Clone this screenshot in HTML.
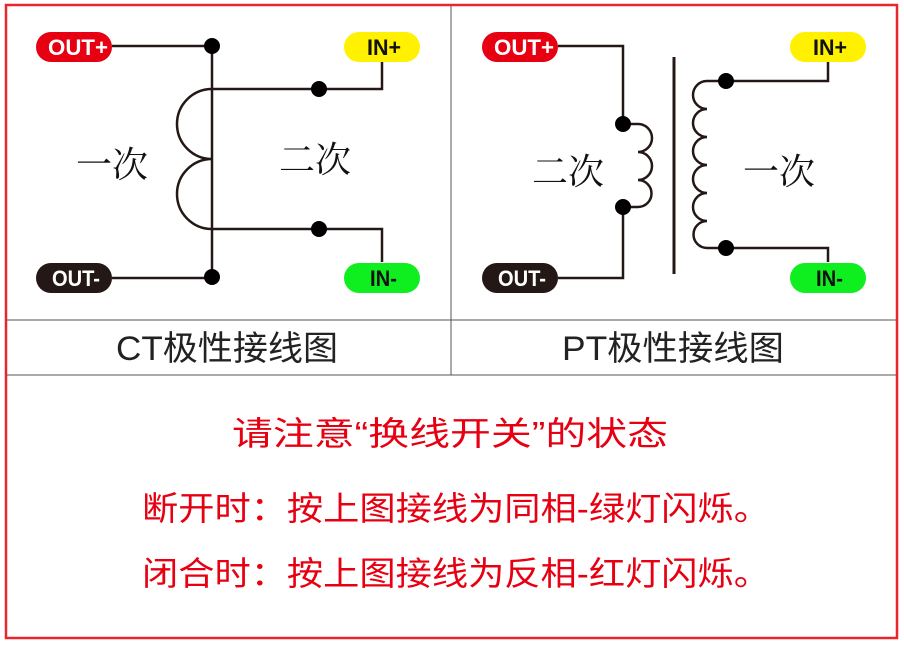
<!DOCTYPE html>
<html><head><meta charset="utf-8"><style>
html,body{margin:0;padding:0;background:#fff;}
svg{display:block;}
.p{font-family:"Liberation Sans",sans-serif;font-weight:bold;font-size:22px;}
.s{font-family:"Liberation Serif","Noto Serif CJK SC",serif;font-size:36px;fill:#111;}
.t{font-family:"Liberation Sans","Noto Sans CJK SC",sans-serif;font-size:34px;fill:#222;}
.r{font-family:"Liberation Sans","Noto Sans CJK SC",sans-serif;font-size:33px;fill:#e60012;}
</style></head><body>
<svg width="904" height="645" viewBox="0 0 904 645" xmlns="http://www.w3.org/2000/svg">
<rect x="6" y="5" width="891" height="633" fill="#fff" stroke="#e8262b" stroke-width="2.5"/>
<line x1="451" y1="6" x2="451" y2="375" stroke="#555" stroke-width="1"/>
<line x1="7" y1="320" x2="896" y2="320" stroke="#555" stroke-width="1"/>
<line x1="7" y1="375" x2="896" y2="375" stroke="#555" stroke-width="1"/>
<g fill="none" stroke="#231815" stroke-width="2.5">
<path d="M112 46 H212 V278 H112"/>
<path d="M212 89 H382 V62"/>
<path d="M212 229 H382 V262"/>
<path d="M212 89 A35 35 0 0 0 212 159 A35 35 0 0 0 212 229"/>
<path d="M558 46 H623 V124"/>
<path d="M623 207 V278 H558"/>
<path d="M623 124 H638 a14 14 0 0 1 0 28 a14 14 0 0 1 0 28 a13.5 13.5 0 0 1 0 27 H623"/>
<path d="M674 57 V274" stroke-width="3"/>
<path d="M726 81 H828 V62"/>
<path d="M726 248 H828 V262"/>
<path d="M726 81 H707 a14 14 0 0 0 0 28 a14 14 0 0 0 0 28 a14 14 0 0 0 0 28 a14 14 0 0 0 0 28 a14 14 0 0 0 0 28 a13.5 13.5 0 0 0 0 27 H726"/>
</g>
<g fill="#000">
<circle cx="212" cy="46" r="8"/><circle cx="212" cy="277" r="8"/>
<circle cx="319" cy="89" r="8"/><circle cx="319" cy="229" r="8"/>
<circle cx="623" cy="124" r="8"/><circle cx="623" cy="207" r="8"/>
<circle cx="726" cy="81" r="8"/><circle cx="726" cy="248" r="8"/>
</g>
<rect x="36" y="32" width="76" height="30" rx="15" fill="#e60012"/>
<text x="48" y="55" class="p" fill="#fff" textLength="60" lengthAdjust="spacingAndGlyphs">OUT+</text>
<rect x="36" y="263" width="76" height="30" rx="15" fill="#231815"/>
<text x="52" y="286" class="p" fill="#fff" textLength="48" lengthAdjust="spacingAndGlyphs">OUT-</text>
<rect x="344" y="32" width="76" height="30" rx="15" fill="#fff100"/>
<text x="367" y="55" class="p" fill="#111" textLength="34" lengthAdjust="spacingAndGlyphs">IN+</text>
<rect x="344" y="263" width="76" height="30" rx="15" fill="#0fef20"/>
<text x="370" y="286" class="p" fill="#111" textLength="27" lengthAdjust="spacingAndGlyphs">IN-</text>
<rect x="482" y="32" width="76" height="30" rx="15" fill="#e60012"/>
<text x="494" y="55" class="p" fill="#fff" textLength="60" lengthAdjust="spacingAndGlyphs">OUT+</text>
<rect x="482" y="263" width="76" height="30" rx="15" fill="#231815"/>
<text x="498" y="286" class="p" fill="#fff" textLength="48" lengthAdjust="spacingAndGlyphs">OUT-</text>
<rect x="790" y="32" width="76" height="30" rx="15" fill="#fff100"/>
<text x="813" y="55" class="p" fill="#111" textLength="34" lengthAdjust="spacingAndGlyphs">IN+</text>
<rect x="790" y="263" width="76" height="30" rx="15" fill="#0fef20"/>
<text x="816" y="286" class="p" fill="#111" textLength="27" lengthAdjust="spacingAndGlyphs">IN-</text>
<text x="112" y="177" text-anchor="middle" class="s">一次</text>
<text x="315" y="172" text-anchor="middle" class="s">二次</text>
<text x="568" y="184" text-anchor="middle" class="s">二次</text>
<text x="779" y="184" text-anchor="middle" class="s">一次</text>
<text x="116" y="360" class="t" textLength="222" lengthAdjust="spacingAndGlyphs">CT极性接线图</text>
<text x="562" y="360" class="t" textLength="222" lengthAdjust="spacingAndGlyphs">PT极性接线图</text>
<text x="232" y="445" class="r" textLength="436" lengthAdjust="spacingAndGlyphs">请注意“换线开关”的状态</text>
<text x="142" y="520" class="r" textLength="628" lengthAdjust="spacingAndGlyphs">断开时：按上图接线为同相-绿灯闪烁。</text>
<text x="142" y="585" class="r" textLength="628" lengthAdjust="spacingAndGlyphs">闭合时：按上图接线为反相-红灯闪烁。</text>
</svg>
</body></html>
